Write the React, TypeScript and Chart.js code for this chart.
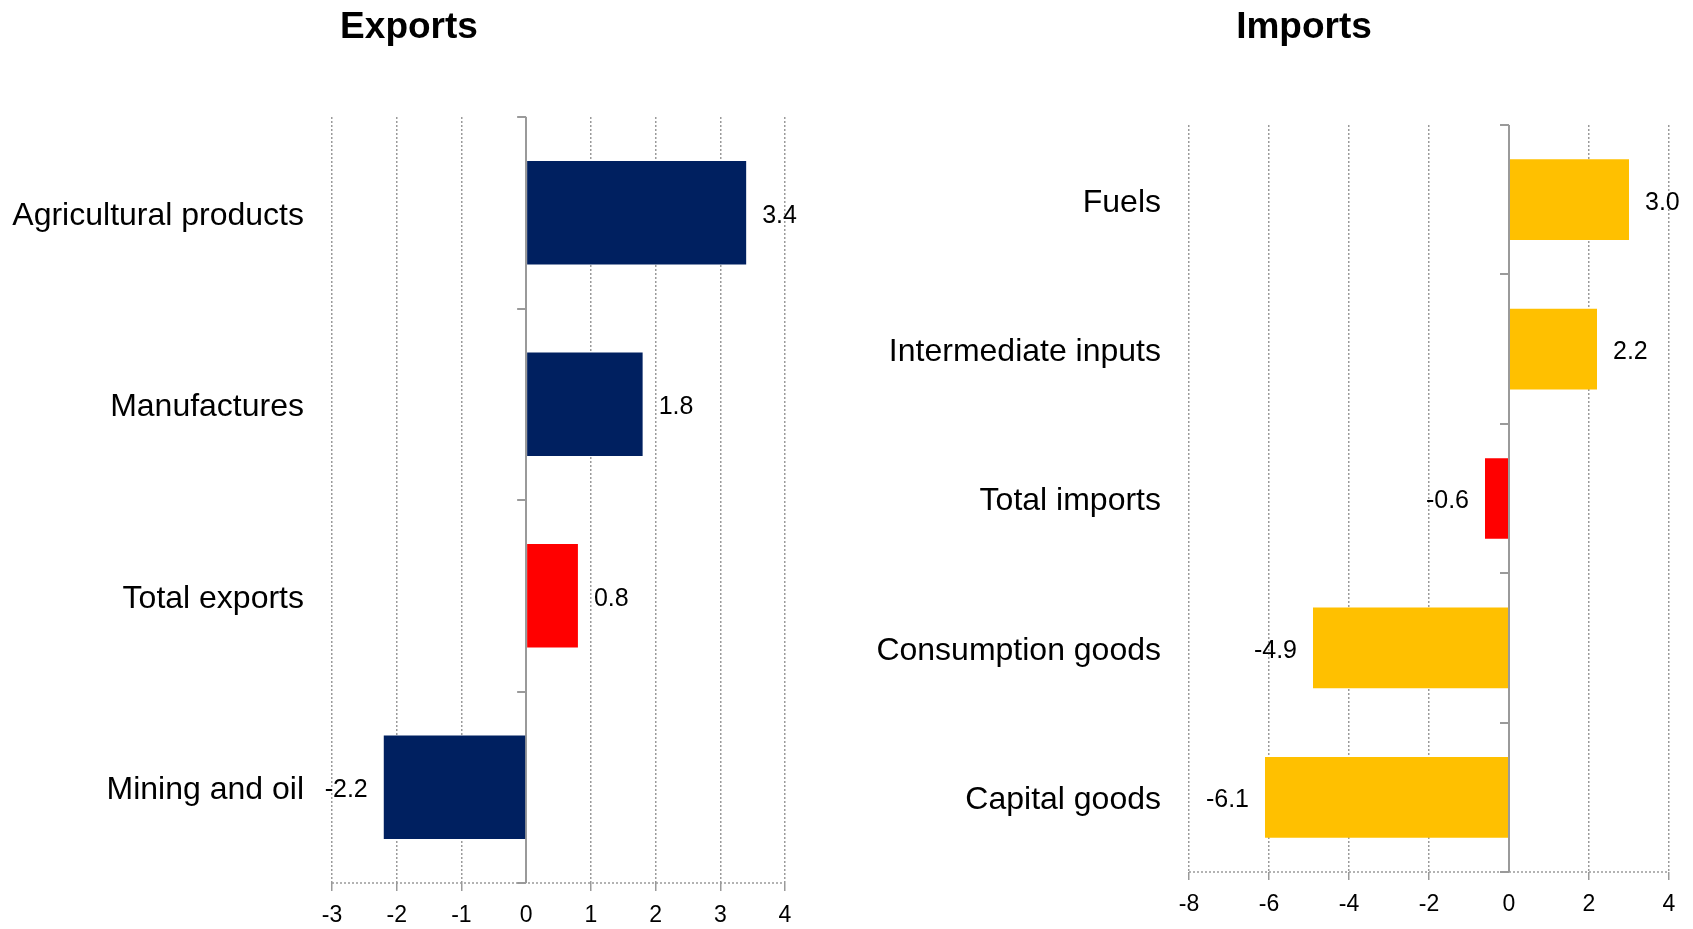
import React, { useEffect, useRef } from "react";
import { Chart, registerables } from "chart.js";

Chart.register(...registerables);

const exportCategories = ["Agricultural products", "Manufactures", "Total exports", "Mining and oil"];
const exportValues = [3.4, 1.8, 0.8, -2.2];
const exportColors = ["#002060", "#002060", "#FF0000", "#002060"];
const exportTicks = [-3, -2, -1, 0, 1, 2, 3, 4];

const importCategories = ["Fuels", "Intermediate inputs", "Total imports", "Consumption goods", "Capital goods"];
const importValues = [3.0, 2.2, -0.6, -4.9, -6.1];
const importColors = ["#FFC000", "#FFC000", "#FF0000", "#FFC000", "#FFC000"];
const importTicks = [-8, -6, -4, -2, 0, 2, 4];

const FONT = "'Liberation Sans', Arial, Helvetica, sans-serif";
const GRID = "#9a9a9a";

const decorPlugin = {
  id: "decor",
  beforeDatasetsDraw(chart: any) {
    const { ctx, chartArea, scales } = chart;
    const xs = scales.x;
    const ys = scales.y;
    ctx.save();
    ctx.strokeStyle = GRID;
    ctx.lineWidth = 1.5;
    ctx.setLineDash([2, 2]);
    ctx.beginPath();
    ctx.moveTo(chartArea.left, chartArea.bottom);
    ctx.lineTo(chartArea.right, chartArea.bottom);
    ctx.stroke();
    ctx.setLineDash([]);
    ctx.lineWidth = 2;
    const x0 = xs.getPixelForValue(0);
    const n = ys.ticks.length;
    for (let i = 0; i <= n; i++) {
      const y = Math.round(ys.top + (i * (ys.bottom - ys.top)) / n);
      ctx.beginPath();
      ctx.moveTo(x0 - 9, y);
      ctx.lineTo(x0, y);
      ctx.stroke();
    }
    ctx.restore();
  },
  afterDatasetsDraw(chart: any) {
    const { ctx } = chart;
    const meta = chart.getDatasetMeta(0);
    const vals = chart.data.datasets[0].data as number[];
    ctx.save();
    ctx.font = `25px ${FONT}`;
    ctx.fillStyle = "#000";
    ctx.textBaseline = "middle";
    meta.data.forEach((bar: any, i: number) => {
      const v = vals[i];
      if (v >= 0) {
        ctx.textAlign = "left";
        ctx.fillText(v.toFixed(1), bar.x + 16, bar.y + 3);
      } else {
        ctx.textAlign = "right";
        ctx.fillText(v.toFixed(1), bar.x - 16, bar.y + 3);
      }
    });
    ctx.restore();
  },
  afterDraw(chart: any, _args: any, pluginOpts: any) {
    if (!pluginOpts || !pluginOpts.text) return;
    const { ctx } = chart;
    ctx.save();
    ctx.font = `bold 37px ${FONT}`;
    ctx.fillStyle = "#000";
    ctx.textAlign = "center";
    ctx.textBaseline = "middle";
    ctx.fillText(pluginOpts.text, pluginOpts.x, pluginOpts.y);
    ctx.restore();
  },
};

function makeConfig(opts: {
  title: string;
  titleX: number;
  categories: string[];
  values: number[];
  colors: string[];
  ticks: number[];
  yWidth: number;
  padTop: number;
  padRight: number;
  padBottom: number;
}) {
  const min = opts.ticks[0];
  const max = opts.ticks[opts.ticks.length - 1];
  return {
    type: "bar",
    data: {
      labels: opts.categories,
      datasets: [
        {
          data: opts.values,
          backgroundColor: opts.colors,
          borderWidth: 0,
          categoryPercentage: 1,
          barPercentage: 0.54,
        },
      ],
    },
    options: {
      indexAxis: "y",
      responsive: false,
      animation: false,
      devicePixelRatio: 1,
      layout: { padding: { left: 0, right: opts.padRight, top: opts.padTop, bottom: opts.padBottom } },
      plugins: {
        legend: { display: false },
        tooltip: { enabled: false },
        title: { display: false },
        decor: { text: opts.title, x: opts.titleX, y: 28 },
      },
      scales: {
        x: {
          type: "linear",
          min,
          max,
          afterBuildTicks: (s: any) => {
            s.ticks = opts.ticks.map((v) => ({ value: v }));
          },
          ticks: {
            color: "#000",
            font: { family: FONT, size: 23 },
            padding: 11,
            callback: (v: any) => String(v),
          },
          grid: {
            color: GRID,
            lineWidth: (c: any) => (c.tick && c.tick.value === 0 ? 2 : 1.5),
            tickLength: 8,
            tickColor: (c: any) => (c.tick && c.tick.value === 0 ? "rgba(0,0,0,0)" : GRID),
            tickWidth: 1.5,
          },
          border: {
            display: false,
            dash: (c: any) => (c.tick && c.tick.value === 0 ? [] : [2, 2]),
          },
        },
        y: {
          afterFit: (s: any) => {
            s.width = opts.yWidth;
          },
          ticks: {
            color: "#000",
            font: { family: FONT, size: 32 },
            padding: 28,
            labelOffset: 3,
          },
          grid: { display: false, drawTicks: false },
          border: { display: false },
        },
      },
    },
    plugins: [decorPlugin],
  } as any;
}

function BarPanel(props: { config: any; width: number; height: number; left: number }) {
  const ref = useRef<HTMLCanvasElement | null>(null);
  useEffect(() => {
    if (!ref.current) return;
    const chart = new Chart(ref.current, props.config);
    return () => chart.destroy();
  }, []);
  return (
    <canvas
      ref={ref}
      width={props.width}
      height={props.height}
      style={{ position: "absolute", left: props.left, top: 0, width: props.width, height: props.height }}
    />
  );
}

export default function App() {
  const exportsConfig = makeConfig({
    title: "Exports",
    titleX: 409,
    categories: exportCategories,
    values: exportValues,
    colors: exportColors,
    ticks: exportTicks,
    yWidth: 332,
    padTop: 117,
    padRight: 33,
    padBottom: 0.4,
  });
  const importsConfig = makeConfig({
    title: "Imports",
    titleX: 434,
    categories: importCategories,
    values: importValues,
    colors: importColors,
    ticks: importTicks,
    yWidth: 319,
    padTop: 125,
    padRight: 24,
    padBottom: 11.4,
  });
  return (
    <div
      style={{
        position: "absolute",
        left: 0,
        top: 0,
        width: 1693,
        height: 929,
        overflow: "hidden",
        background: "#fff",
      }}
    >
      <BarPanel config={exportsConfig} width={818} height={941} left={0} />
      <BarPanel config={importsConfig} width={823} height={941} left={870} />
    </div>
  );
}
